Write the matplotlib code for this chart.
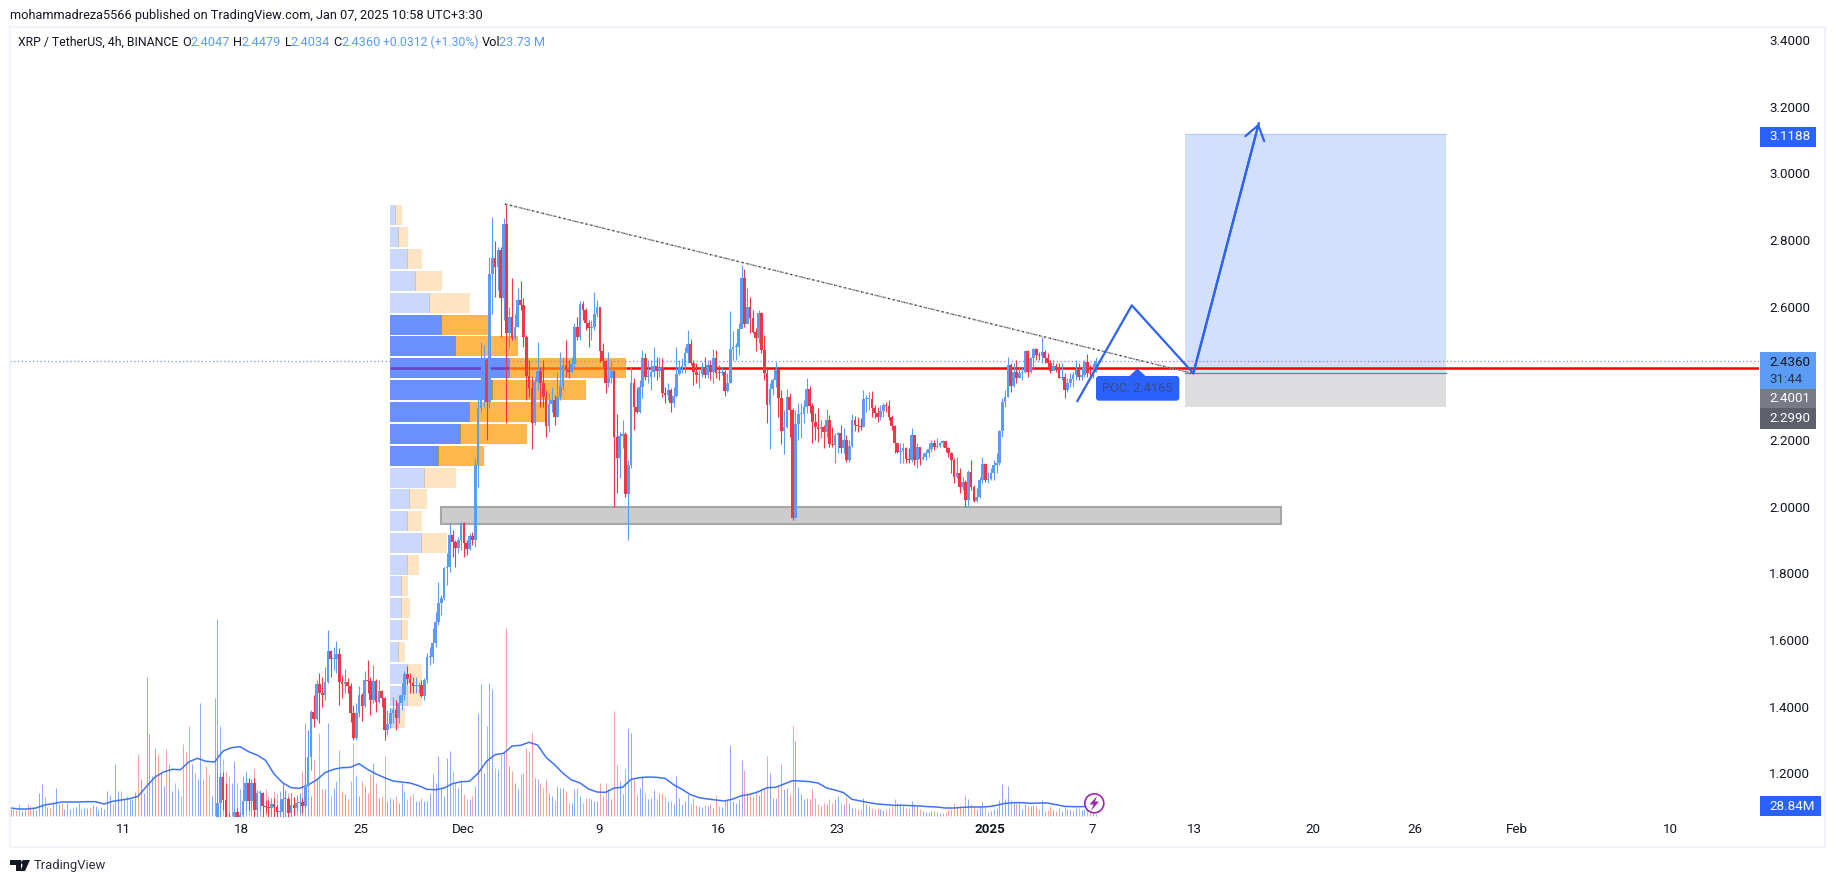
"""
XRP / TetherUS 4h chart as published on TradingView
"""
import matplotlib
matplotlib.use('Agg')  # Non-GUI backend
import matplotlib.pyplot as plt
from matplotlib.patches import Rectangle, Circle, Polygon, FancyBboxPatch
from matplotlib.transforms import Affine2D

plt.rcParams['font.family'] = ['Roboto', 'DejaVu Sans']

W, H = 1835, 883

# candles, one row per day (6 x 4h bars). x axis is days since Dec 1
first_open = 1.05
closes = [
    1.11, 1.19, 1.12, 1.06, 1.05, 1.05,
    1.085, 1.07, 1.075, 1.118, 1.17, 1.118,
    1.17, 1.09, 1.14, 1.142, 1.103, 1.10,
    1.097, 1.108, 1.098, 1.084, 1.085, 1.123,
    1.123, 1.08, 1.105, 1.097, 1.112, 1.114,
    1.103, 1.165, 1.248, 1.385, 1.364, 1.468,
    1.442, 1.436, 1.474, 1.567, 1.544, 1.544,
    1.558, 1.475, 1.468, 1.475, 1.463, 1.382,
    1.307, 1.38, 1.435, 1.402, 1.48, 1.477,
    1.42, 1.477, 1.415, 1.447, 1.425, 1.33,
    1.347, 1.38, 1.39, 1.365, 1.41, 1.435,
    1.498, 1.483, 1.47, 1.462, 1.463, 1.465,
    1.432, 1.48, 1.548, 1.55, 1.59, 1.653,
    1.71, 1.725, 1.815, 1.82, 1.915, 1.895,
    1.876, 1.90, 1.95, 1.89, 1.872, 1.912,
    1.90, 2.125, 2.295, 2.37, 2.44, 2.315,
    2.698, 2.745, 2.72, 2.77, 2.627, 2.848,
    2.522, 2.569, 2.507, 2.54, 2.62, 2.605,
    2.51, 2.392, 2.355, 2.252, 2.375, 2.407,
    2.372, 2.33, 2.242, 2.307, 2.32, 2.27,
    2.328, 2.362, 2.424, 2.41, 2.405, 2.427,
    2.538, 2.51, 2.608, 2.59, 2.55, 2.537,
    2.538, 2.578, 2.599, 2.468, 2.438, 2.37,
    2.385, 2.407, 2.21, 2.147, 2.212, 2.218,
    2.038, 2.125, 2.37, 2.298, 2.285, 2.358,
    2.445, 2.39, 2.39, 2.405, 2.422, 2.407,
    2.417, 2.342, 2.335, 2.35, 2.312, 2.332,
    2.398, 2.42, 2.422, 2.462, 2.488, 2.43,
    2.403, 2.395, 2.398, 2.415, 2.395, 2.425,
    2.405, 2.445, 2.402, 2.40, 2.403, 2.348,
    2.372, 2.472, 2.48, 2.48, 2.532, 2.687,
    2.548, 2.598, 2.565, 2.523, 2.507, 2.58,
    2.47, 2.40, 2.305, 2.353, 2.38, 2.41,
    2.325, 2.228, 2.24, 2.328, 2.29, 1.965,
    2.248, 2.277, 2.277, 2.298, 2.353, 2.303,
    2.255, 2.24, 2.233, 2.24, 2.225, 2.26,
    2.188, 2.185, 2.215, 2.22, 2.175, 2.20,
    2.14, 2.182, 2.26, 2.245, 2.243, 2.24,
    2.322, 2.322, 2.322, 2.295, 2.282, 2.27,
    2.287, 2.305, 2.303, 2.27, 2.242, 2.19,
    2.165, 2.167, 2.175, 2.142, 2.14, 2.215,
    2.14, 2.18, 2.142, 2.15, 2.16, 2.172,
    2.19, 2.18, 2.183, 2.19, 2.197, 2.175,
    2.16, 2.14, 2.09, 2.10, 2.06, 2.075,
    2.02, 2.105, 2.06, 2.017, 2.03, 2.08,
    2.128, 2.08, 2.083, 2.10, 2.125, 2.13,
    2.228, 2.315, 2.33, 2.425, 2.362, 2.405,
    2.385, 2.40, 2.403, 2.468, 2.405, 2.445,
    2.472, 2.455, 2.452, 2.465, 2.445, 2.43,
    2.408, 2.422, 2.417, 2.387, 2.39, 2.35,
    2.37, 2.382, 2.395, 2.41, 2.39, 2.395,
    2.434, 2.40, 2.397, 2.4047, 2.436,
]
highs = [
    1.27, 1.20, 1.205, 1.17, 1.08, 1.07,
    1.10, 1.095, 1.085, 1.15, 1.19, 1.185,
    1.18, 1.185, 1.15, 1.15, 1.145, 1.12,
    1.12, 1.125, 1.125, 1.105, 1.12, 1.17,
    1.15, 1.13, 1.14, 1.13, 1.135, 1.14,
    1.125, 1.25, 1.33, 1.39, 1.435, 1.48,
    1.50, 1.49, 1.52, 1.63, 1.57, 1.58,
    1.597, 1.576, 1.495, 1.512, 1.485, 1.47,
    1.405, 1.41, 1.462, 1.44, 1.507, 1.54,
    1.49, 1.525, 1.482, 1.48, 1.45, 1.43,
    1.39, 1.395, 1.43, 1.42, 1.435, 1.47,
    1.507, 1.522, 1.50, 1.49, 1.49, 1.475,
    1.48, 1.485, 1.56, 1.58, 1.635, 1.685,
    1.775, 1.735, 1.82, 1.86, 1.95, 1.93,
    1.90, 1.91, 1.955, 1.955, 1.90, 1.92,
    1.925, 2.145, 2.37, 2.495, 2.485, 2.445,
    2.75, 2.87, 2.797, 2.78, 2.78, 2.865,
    2.908, 2.60, 2.685, 2.578, 2.655, 2.677,
    2.625, 2.515, 2.44, 2.39, 2.39, 2.495,
    2.42, 2.44, 2.35, 2.34, 2.36, 2.335,
    2.405, 2.465, 2.45, 2.50, 2.44, 2.45,
    2.55, 2.57, 2.617, 2.617, 2.595, 2.56,
    2.56, 2.645, 2.62, 2.60, 2.49, 2.44,
    2.465, 2.44, 2.41, 2.278, 2.225, 2.26,
    2.225, 2.14, 2.42, 2.385, 2.355, 2.38,
    2.47, 2.46, 2.44, 2.44, 2.48, 2.45,
    2.45, 2.445, 2.36, 2.37, 2.355, 2.36,
    2.48, 2.44, 2.445, 2.48, 2.53, 2.503,
    2.44, 2.43, 2.41, 2.435, 2.45, 2.44,
    2.44, 2.473, 2.47, 2.425, 2.42, 2.41,
    2.40, 2.587, 2.527, 2.49, 2.55, 2.725,
    2.712, 2.655, 2.63, 2.59, 2.535, 2.59,
    2.585, 2.515, 2.42, 2.37, 2.386, 2.433,
    2.41, 2.35, 2.29, 2.353, 2.34, 2.295,
    2.29, 2.31, 2.31, 2.32, 2.385, 2.362,
    2.31, 2.28, 2.295, 2.26, 2.245, 2.293,
    2.275, 2.24, 2.22, 2.225, 2.245, 2.235,
    2.215, 2.20, 2.278, 2.272, 2.27, 2.265,
    2.35, 2.335, 2.345, 2.348, 2.305, 2.30,
    2.305, 2.31, 2.315, 2.32, 2.275, 2.245,
    2.19, 2.19, 2.19, 2.18, 2.175, 2.235,
    2.215, 2.19, 2.18, 2.16, 2.17, 2.19,
    2.20, 2.20, 2.205, 2.195, 2.20, 2.195,
    2.18, 2.165, 2.145, 2.15, 2.115, 2.09,
    2.08, 2.11, 2.14, 2.065, 2.055, 2.09,
    2.15, 2.13, 2.105, 2.115, 2.14, 2.16,
    2.23, 2.325, 2.35, 2.45, 2.43, 2.43,
    2.44, 2.42, 2.42, 2.47, 2.47, 2.45,
    2.475, 2.475, 2.465, 2.51, 2.47, 2.46,
    2.44, 2.44, 2.43, 2.43, 2.43, 2.40,
    2.385, 2.40, 2.405, 2.44, 2.43, 2.42,
    2.44, 2.458, 2.425, 2.43, 2.4479,
]
lows = [
    1.04, 1.06, 1.09, 1.04, 1.03, 1.03,
    1.04, 1.05, 1.04, 1.06, 1.09, 1.09,
    1.10, 1.07, 1.07, 1.09, 1.07, 1.08,
    1.07, 1.07, 1.07, 1.07, 1.06, 1.07,
    1.07, 1.06, 1.07, 1.075, 1.09, 1.08,
    1.08, 1.095, 1.16, 1.21, 1.34, 1.36,
    1.35, 1.40, 1.42, 1.47, 1.49, 1.51,
    1.50, 1.405, 1.425, 1.44, 1.44, 1.355,
    1.30, 1.30, 1.37, 1.357, 1.40, 1.44,
    1.375, 1.41, 1.385, 1.41, 1.40, 1.30,
    1.315, 1.335, 1.35, 1.33, 1.35, 1.39,
    1.42, 1.465, 1.44, 1.44, 1.44, 1.44,
    1.43, 1.42, 1.47, 1.525, 1.53, 1.58,
    1.645, 1.675, 1.72, 1.765, 1.805, 1.85,
    1.82, 1.86, 1.87, 1.85, 1.855, 1.87,
    1.885, 1.88, 2.06, 2.285, 2.30, 2.20,
    2.295, 2.578, 2.63, 2.65, 2.51, 2.56,
    2.25, 2.48, 2.50, 2.50, 2.54, 2.59,
    2.48, 2.32, 2.33, 2.173, 2.245, 2.35,
    2.30, 2.30, 2.21, 2.225, 2.285, 2.245,
    2.27, 2.32, 2.35, 2.39, 2.385, 2.40,
    2.42, 2.50, 2.50, 2.56, 2.53, 2.48,
    2.50, 2.53, 2.57, 2.435, 2.42, 2.34,
    2.36, 2.37, 2.00, 2.04, 2.085, 2.175,
    2.03, 1.90, 2.115, 2.23, 2.28, 2.28,
    2.325, 2.38, 2.37, 2.35, 2.39, 2.38,
    2.39, 2.33, 2.31, 2.32, 2.285, 2.30,
    2.33, 2.395, 2.40, 2.40, 2.43, 2.425,
    2.365, 2.37, 2.355, 2.39, 2.385, 2.385,
    2.38, 2.37, 2.385, 2.38, 2.395, 2.332,
    2.345, 2.37, 2.44, 2.44, 2.455, 2.55,
    2.54, 2.575, 2.52, 2.52, 2.467, 2.49,
    2.46, 2.38, 2.25, 2.172, 2.335, 2.36,
    2.27, 2.188, 2.158, 2.235, 2.21, 1.96,
    1.965, 2.20, 2.205, 2.25, 2.28, 2.28,
    2.19, 2.20, 2.195, 2.205, 2.177, 2.21,
    2.18, 2.18, 2.132, 2.16, 2.16, 2.16,
    2.135, 2.135, 2.18, 2.228, 2.225, 2.23,
    2.24, 2.285, 2.29, 2.27, 2.265, 2.255,
    2.26, 2.27, 2.285, 2.26, 2.23, 2.16,
    2.16, 2.13, 2.13, 2.13, 2.13, 2.135,
    2.125, 2.117, 2.125, 2.14, 2.14, 2.15,
    2.165, 2.17, 2.175, 2.18, 2.18, 2.165,
    2.15, 2.10, 2.07, 2.085, 2.04, 2.05,
    1.998, 2.00, 2.05, 2.015, 2.015, 2.025,
    2.07, 2.075, 2.07, 2.08, 2.08, 2.10,
    2.125, 2.21, 2.30, 2.33, 2.345, 2.36,
    2.37, 2.385, 2.38, 2.40, 2.39, 2.40,
    2.41, 2.44, 2.44, 2.43, 2.43, 2.42,
    2.40, 2.41, 2.405, 2.385, 2.38, 2.327,
    2.345, 2.36, 2.36, 2.38, 2.38, 2.38,
    2.39, 2.39, 2.39, 2.385, 2.4034,
]

# volume in millions, the first 73 bars come before the first visible candle
early_volumes = [
    22, 20, 18, 35, 14, 18, 35, 30, 25, 18,
    70, 96, 58, 28, 25, 40, 83, 35, 38, 22,
    40, 22, 28, 26, 38, 20, 25, 24, 28, 32,
    30, 22, 28, 20, 75, 62, 35, 155, 75, 75,
    50, 60, 50, 50, 72, 185, 110, 70, 416, 245,
    120, 205, 185, 130, 90, 200, 155, 75, 100, 80,
    60, 215, 195, 270, 155, 130, 110, 340, 110, 150,
    125, 60, 355,
]
early_up = (
    'uddduudduu' 'uududuuudu' 'uuduuduudu' 'uuuuuuduud'
    'uduuuduuuu' 'uuduuduudu' 'dddduduudd' 'duu'
)
candle_volumes = [
    590,
    270, 170, 135, 120, 100, 165, 100, 80, 120, 135,
    100, 110, 140, 70, 70, 65, 80, 60, 50, 75,
    70, 75, 80, 50, 70, 70, 55, 55, 40, 135,
    280, 175, 60, 170, 115, 250, 80, 80, 280, 60,
    85, 105, 198, 75, 65, 50, 105, 218, 120, 60,
    105, 90, 70, 125, 160, 100, 55, 60, 180, 45,
    55, 50, 60, 40, 100, 75, 50, 60, 65, 45,
    45, 55, 45, 45, 70, 125, 100, 180, 85, 60,
    175, 195, 135, 100, 85, 105, 65, 50, 50, 60,
    90, 310, 395, 130, 270, 400, 380, 145, 140, 185,
    190, 565, 150, 135, 100, 80, 125, 130, 205, 195,
    250, 115, 110, 100, 85, 110, 70, 60, 45, 90,
    85, 85, 75, 40, 40, 80, 85, 60, 40, 55,
    55, 50, 45, 45, 100,
    60, 100, 80, 50, 315, 153, 105, 65, 140, 265,
    250, 110, 65, 85, 120, 70, 50, 55, 78, 50,
    68, 70, 58, 45, 45, 35, 120, 55, 35, 45,
    65, 35, 55, 32, 30, 28, 32, 30, 35, 25,
    62, 30, 28, 50, 48, 213, 45, 40, 50, 168,
    138, 70, 62, 60, 75, 62, 85, 85, 180, 128,
    55, 55, 90, 155, 80, 85, 65, 270, 225, 88,
    65, 50, 55, 50, 82, 55, 35, 30, 38, 35,
    50, 38, 50, 60, 40, 35, 58, 40, 25, 25,
    22, 22, 55, 35, 30, 25, 20, 25, 22, 18,
    22, 25, 30, 50, 38, 40, 30, 25, 25, 45,
    35, 30, 20, 15, 12, 12, 16, 14, 12, 9,
    8, 12, 18, 20, 40, 28, 30, 25, 63, 50,
    35, 28, 22, 30, 42, 30, 12, 15, 22, 25,
    48, 96, 52, 90, 48, 40, 38, 38, 22, 36,
    30, 30, 32, 34, 22, 48, 15, 18, 30, 18,
    14, 24, 15, 30, 22, 18, 15, 24, 24, 18,
    20, 30, 15, 8, 5,
]

# volume moving average, one reading every third bar
volume_ma = [
    24, 21, 21, 24, 33, 37, 42, 42, 42, 43,
    43, 36, 44, 48, 52, 59, 89, 117, 132, 140,
    139, 163, 173, 164, 162, 195, 205, 208, 193, 183,
    167, 126, 100, 85, 83, 93, 108, 130, 140, 145,
    146, 157, 140, 126, 115, 105, 102, 99, 91, 80,
    79, 84, 97, 103, 104, 128, 164, 184, 188, 210,
    212, 221, 213, 176, 154, 128, 108, 99, 81, 72,
    71, 84, 86, 110, 115, 117, 116, 113, 94, 80,
    64, 55, 51, 48, 45, 51, 61, 65, 73, 85,
    86, 96, 106, 105, 103, 99, 84, 78, 70, 50,
    45, 40, 36, 34, 32, 32, 31, 30, 28, 27,
    24, 24, 26, 27, 27, 28, 32, 38, 40, 40,
    38, 39, 39, 34, 29, 28, 28, 28.84,
]

# visible range volume profile, widths in screen px of the published chart
profile_prices = [
    2.875, 2.809, 2.743, 2.677, 2.611, 2.546, 2.482, 2.416,
    2.350, 2.284, 2.218, 2.153, 2.087, 2.023, 1.957, 1.891,
    1.825, 1.761, 1.695, 1.630, 1.564, 1.498, 1.432, 1.366,
]
profile_up = [
    5.7, 8.7, 17.7, 25.7, 39.7, 51.7, 65.7, 119.3,
    102, 79.7, 70.3, 48.3, 34.3, 19.7, 17.7, 31.7,
    17.7, 11.7, 11.7, 11.7, 8.7, 17.7, 17.7, 8.7,
]
profile_down = [
    6.3, 9.3, 14.3, 26.3, 40.3, 47.7, 62.3, 116.7,
    94, 76.3, 66.7, 45.7, 31.7, 17.3, 14.3, 25.7,
    11.3, 6.3, 8.3, 6.3, 6.3, 14.3, 14.3, 6.3,
]
value_area = [False] * 5 + [True] * 7 + [False] * 12

poc_price = 2.4165
last_price = 2.4360
trend_days = [2.47, 43.06]
trend_prices = [2.908, 2.398]
zone_days = [-1.31, 48.12]
zone_prices = [1.948, 1.998]
position_days = [42.47, 57.82]
position_prices = [3.1188, 2.4001, 2.2990]
path_days = [36.14, 39.34, 42.96, 46.81]
path_prices = [2.317, 2.604, 2.40, 3.150]

price_ticks = [3.4, 3.2, 3.0, 2.8, 2.6, 2.2, 2.0, 1.8, 1.6, 1.4, 1.2]
day_ticks = [-20, -13, -6, 0, 8, 15, 22, 31, 37, 43, 50, 56, 62, 71]
day_labels = ['11', '18', '25', 'Dec', '9', '16', '23', '2025', '7', '13', '20', '26', 'Feb', '10']

UP = '#5b9cf6'
DOWN = '#f23645'
TEXT = '#131722'
LINE_BLUE = '#2e62f0'

# pixel transform for the TradingView furniture around the chart
pix = Affine2D().scale(1, -1).translate(0, H)


def fig_text(x, y, s, **kwargs):
    kwargs.setdefault('fontsize', 9.6)
    kwargs.setdefault('color', TEXT)
    kwargs.setdefault('va', 'center')
    return fig.text(x, y, s, transform=pix, zorder=5, **kwargs)


def fig_patch(patch):
    patch.set_transform(pix)
    patch.set_zorder(4)
    fig.add_artist(patch)


fig = plt.figure(figsize=(W / 100, H / 100), dpi=100)
rect = [10 / W, 1 - 817 / H, 1749 / W, 790 / H]

# Volume sits in its own axes below the price axes
ax_vol = fig.add_axes(rect)
ax_vol.set_xlim(-26.647, 76.235)
ax_vol.set_ylim(-3, 2367)
ax_vol.axis('off')

ax = fig.add_axes(rect, zorder=2)
ax.patch.set_visible(False)
ax.set_xlim(-26.647, 76.235)
ax.set_ylim(1.069, 3.439)
for spine in ax.spines.values():
    spine.set_visible(False)

last_day = 37.218
n_candles = len(closes)
candle_x = [last_day - (n_candles - 1 - i) / 6 for i in range(n_candles)]
opens = [first_open] + closes[:-1]
candle_colors = [UP if c >= o else DOWN for o, c in zip(opens, closes)]

# Volume bars and average
early_x = [candle_x[0] - (len(early_volumes) - i) / 6 for i in range(len(early_volumes))]
early_colors = ['#8fabf7' if d == 'u' else '#f5a3a7' for d in early_up]
ax_vol.vlines(early_x, 0, early_volumes, colors=early_colors, linewidth=0.72)
vol_colors = ['#8fabf7' if c == UP else '#f5a3a7' for c in candle_colors]
ax_vol.vlines(candle_x, 0, candle_volumes, colors=vol_colors, linewidth=0.72)
all_x = early_x + candle_x
ax_vol.plot(all_x[::3], volume_ma, color='#3f72f5', linewidth=1.1, zorder=3)

# Volume profile
profile_left = -4.29
for price, up, down, strong in zip(profile_prices, profile_up, profile_down, value_area):
    ax.barh(price, up / 17, left=profile_left, height=0.06,
            color='#6a90ff' if strong else '#c9d8fc', zorder=1)
    ax.barh(price, down / 17, left=profile_left + up / 17, height=0.06,
            color='#ffb74d' if strong else '#fee4c2', zorder=1)
    ax.barh(price, 1 / 17, left=profile_left + up / 17 - 0.5 / 17, height=0.06,
            color='#c08a4a' if strong else '#cfc6ba', zorder=1.1)

# Drawings
ax.add_patch(Rectangle((zone_days[0], zone_prices[0]), zone_days[1] - zone_days[0],
                       zone_prices[1] - zone_prices[0], facecolor='#cccccc',
                       edgecolor='#a6a6a6', linewidth=1.5, zorder=1.5))
ax.add_patch(Rectangle((position_days[0], position_prices[1]), position_days[1] - position_days[0],
                       position_prices[0] - position_prices[1], facecolor='#d3e0fc',
                       edgecolor='none', zorder=1.5))
ax.add_patch(Rectangle((position_days[0], position_prices[2]), position_days[1] - position_days[0],
                       position_prices[1] - position_prices[2], facecolor='#dddde0',
                       edgecolor='none', zorder=1.5))
ax.plot(position_days, [position_prices[0]] * 2, color='#b7c9f5', linewidth=0.9, zorder=1.6)
ax.plot(position_days, [position_prices[1]] * 2, color='#787b86', linewidth=0.9, zorder=1.6)

# Last price and point of control
ax.axhline(last_price, color=UP, linewidth=0.9, linestyle=(0, (1, 2)), zorder=2)
profile_mid = profile_left + profile_up[7] / 17
profile_end = profile_mid + profile_down[7] / 17
ax.plot([profile_left, profile_mid], [poc_price] * 2, color='#6644c0', linewidth=1.8, zorder=2, solid_capstyle='butt')
ax.plot([profile_mid, profile_end], [poc_price] * 2, color='#ff6d00', linewidth=1.8, zorder=2, solid_capstyle='butt')
ax.plot([profile_end, 76.235], [poc_price] * 2, color='#ff0000', linewidth=1.8, zorder=2, solid_capstyle='butt')

# Candles
ax.vlines(candle_x, lows, highs, colors=candle_colors, linewidth=0.8, zorder=3)
bottoms = [min(o, c) for o, c in zip(opens, closes)]
heights = [max(abs(c - o), 0.003) for o, c in zip(opens, closes)]
ax.bar(candle_x, heights, bottom=bottoms, width=0.155, color=candle_colors, linewidth=0, zorder=3.1)

# Trend line, dotted black over dashed grey
ax.plot(trend_days, trend_prices, color='#9a9a9a', linewidth=1.1, linestyle=(0, (2, 1)), zorder=4)
ax.plot(trend_days, trend_prices, color='#222222', linewidth=0.8, linestyle=(0, (1, 4)), zorder=4.1)

# Projected path with arrow head
ax.plot(path_days, path_prices, color=LINE_BLUE, linewidth=1.6, zorder=5)
ax.annotate('', xy=(path_days[-1], path_prices[-1]), xytext=(path_days[-2], path_prices[-2]),
            arrowprops=dict(arrowstyle='->,head_length=1.0,head_width=0.7', color=LINE_BLUE,
                            linewidth=1.6, shrinkA=0, shrinkB=0), zorder=5)

# Axes ticks
ax.yaxis.tick_right()
ax.set_yticks(price_ticks)
ax.set_yticklabels([f'{p:.4f}' for p in price_ticks], fontsize=9.6, color=TEXT)
ax.set_xticks(day_ticks)
ax.set_xticklabels(day_labels, fontsize=9.6, color=TEXT)
ax.tick_params(axis='y', length=0, pad=7.2)
ax.tick_params(axis='x', length=0, pad=4.5)
ax.get_xticklabels()[day_labels.index('2025')].set_fontweight('bold')

# Frame around the published chart
fig_patch(Rectangle((9.5, 27), 1815, 820, fill=False, edgecolor='#f0f3fa', linewidth=1.6))

# Header and legend
fig_text(10, 15, 'mohammadreza5566 published on TradingView.com, Jan 07, 2025 10:58 UTC+3:30', fontsize=9.2)
legend_y = 42
fig_text(18, legend_y, 'XRP / TetherUS, 4h, BINANCE', fontsize=8.8)
legend_items = [
    (182, 'O', TEXT, 9.2), (190.5, '2.4047', UP, 9.2), (233, 'H', TEXT, 9.2), (241, '2.4479', UP, 9.2),
    (284.6, 'L', TEXT, 9.2), (290.5, '2.4034', UP, 9.2), (333, 'C', TEXT, 9.2), (341, '2.4360', UP, 9.2),
    (383.4, '+0.0312 (+1.30%)', UP, 8.8), (482, 'Vol', TEXT, 9.2), (499, '23.73 M', UP, 9.2),
]
for lx, s, col, size in legend_items:
    fig_text(lx, legend_y, s, color=col, fontsize=size)


# Price scale labels
def price_label(top, bottom, color, s, right=1816):
    fig_patch(Rectangle((1760, top), right - 1760, bottom - top, facecolor=color, edgecolor='none'))
    if s:
        fig_text(1769, (top + bottom) / 2, s, color='white')


price_label(126.5, 146.5, '#2962ff', '3.1188')
price_label(352, 389.3, UP, '')
fig_text(1769, 363, '2.4360', color=TEXT)
fig_text(1769, 379.5, '31:44', color='#2a3550')
price_label(389.3, 408.3, '#787b86', '2.4001')
price_label(408.3, 429, '#5d606b', '2.2990')
price_label(796, 816, '#2962ff', '28.84M', right=1821)

# POC tag
fig_patch(FancyBboxPatch((1096, 376), 83.3, 24.7, boxstyle='round,pad=0,rounding_size=3',
                         facecolor='#2962ff', edgecolor='none'))
fig_patch(Polygon([(1129, 376.5), (1137.3, 368.5), (1146, 376.5)], closed=True,
                  facecolor='#2962ff', edgecolor='none'))
fig_text(1137.5, 388, 'POC: 2.4165', color='#3b4a78', ha='center', fontsize=9.2)

# Lightning badge
fig_patch(Circle((1094.3, 803.3), 9.5, facecolor='white', edgecolor='#9c27b0', linewidth=1.2))
fig_patch(Polygon([(1097, 796), (1089.5, 804.5), (1093.5, 804.5), (1091, 811), (1099, 801.5), (1095, 801.5)],
                  closed=True, facecolor='#9c27b0', edgecolor='none'))

# TradingView mark
fig_patch(Polygon([(10, 860), (21, 860), (21, 871), (16, 871), (16, 865), (10, 865)],
                  closed=True, facecolor=TEXT, edgecolor='none'))
fig_patch(Circle((23.5, 862.5), 2.4, facecolor=TEXT, edgecolor='none'))
fig_patch(Polygon([(25, 871), (30, 860), (24.5, 860), (20.5, 871)],
                  closed=True, facecolor=TEXT, edgecolor='none'))
fig_text(33.5, 865.5, 'TradingView', fontsize=9.4, color='#2a2e39')

fig.savefig('out.png', dpi=100)
plt.close(fig)
